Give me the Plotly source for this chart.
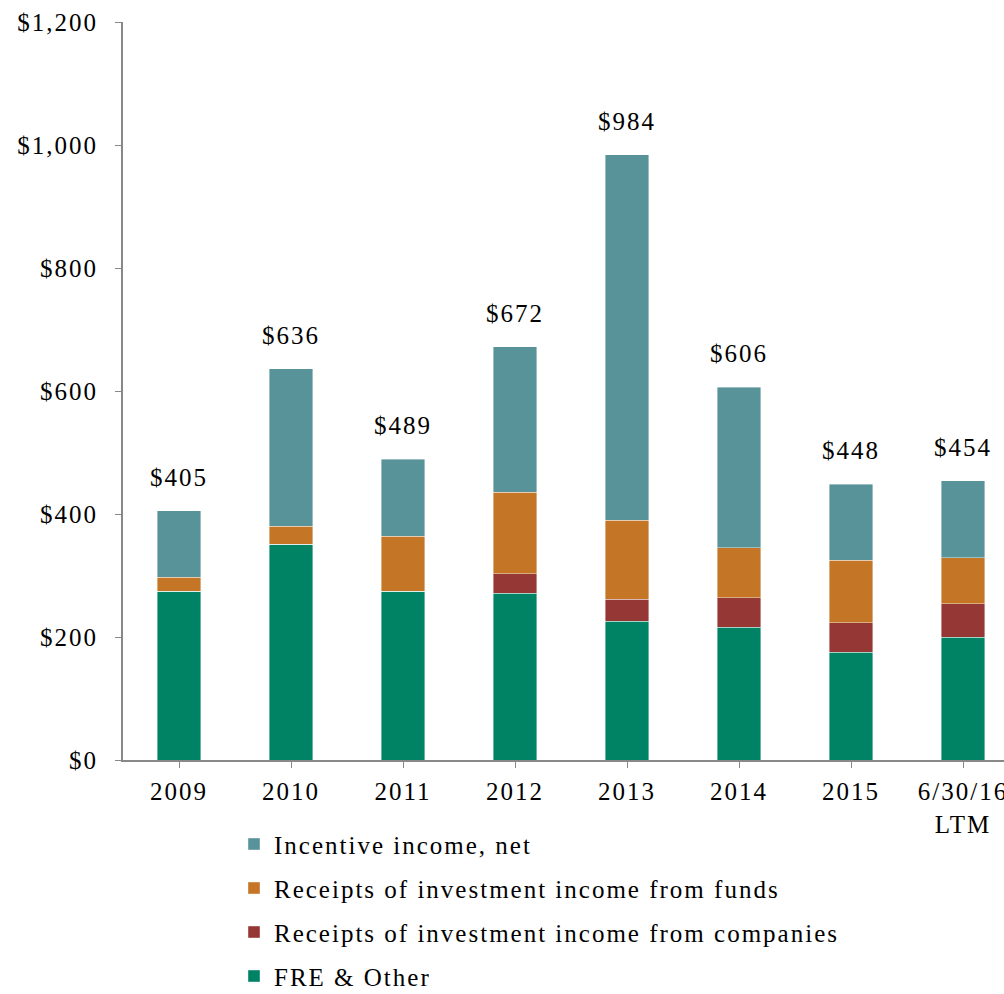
import plotly.graph_objects as go

categories = ["2009", "2010", "2011", "2012", "2013", "2014", "2015", "6/30/16<br>LTM"]
fre_other = [274, 351, 274, 271, 226, 216, 175, 200]
inv_companies = [0, 0, 0, 32, 35, 48, 48, 54]
inv_funds = [23, 29, 90, 132, 129, 81, 102, 75]
incentive = [108, 256, 125, 237, 594, 261, 123, 125]
totals = [405, 636, 489, 672, 984, 606, 448, 454]
total_labels = ["$405", "$636", "$489", "$672", "$984", "$606", "$448", "$454"]

FONT = "Liberation Serif"
x_idx = list(range(len(categories)))

series = [
    ("FRE & Other", fre_other, "#008264"),
    ("Receipts of investment income from companies", inv_companies, "#953735"),
    ("Receipts of investment income from funds", inv_funds, "#C47526"),
    ("Incentive income, net", incentive, "#58939A"),
]

fig = go.Figure()
for i, (name, vals, col) in enumerate(series):
    fig.add_trace(go.Bar(
        x=x_idx, y=vals, name=name, legendgroup=str(i), legendrank=100 - i,
        marker=dict(color=col, line=dict(color="rgba(255,255,255,0.5)", width=0.8)),
    ))

for xi, t, lab in zip(x_idx, totals, total_labels):
    fig.add_annotation(x=xi, y=t, text=lab, showarrow=False, yanchor="bottom",
                       yshift=18, font=dict(family=FONT, size=25, color="#000"))

fig.update_layout(
    width=1004, height=994,
    margin=dict(l=123, r=0, t=22, b=234, autoexpand=False),
    barmode="stack", bargap=0.61,
    plot_bgcolor="white", paper_bgcolor="white",
    font=dict(family=FONT, size=25, color="#000"),
    showlegend=True,
    legend=dict(orientation="v", traceorder="grouped", x=0.126, xanchor="left",
                y=-0.083, yanchor="top", tracegroupgap=8.5,
                bgcolor="rgba(0,0,0,0)",
                font=dict(family=FONT, size=25, color="#000")),
    xaxis=dict(range=[-0.5, 7.366], tickmode="array", tickvals=x_idx, ticktext=categories,
               tickson="boundaries", ticks="outside", ticklen=6, tickcolor="#888",
               showline=True, linecolor="#888", linewidth=2, showgrid=False,
               tickfont=dict(family=FONT, size=25), ticklabelstandoff=2),
    yaxis=dict(range=[0, 1200], dtick=200, tickprefix="$", tickformat=",",
               ticks="outside", ticklen=6, tickcolor="#888",
               showline=True, linecolor="#888", linewidth=2, showgrid=False,
               zeroline=False, tickfont=dict(family=FONT, size=25),
               ticklabelstandoff=12),
)

post = """
var gd = document.getElementById('{plot_id}');
gd.querySelectorAll('text').forEach(function(t){ t.style.letterSpacing = '2px'; });
gd.querySelectorAll('.legend [clip-path], .legend[clip-path]').forEach(function(e){ e.removeAttribute('clip-path'); });
"""

fig.write_html("out.html", post_script=post)
